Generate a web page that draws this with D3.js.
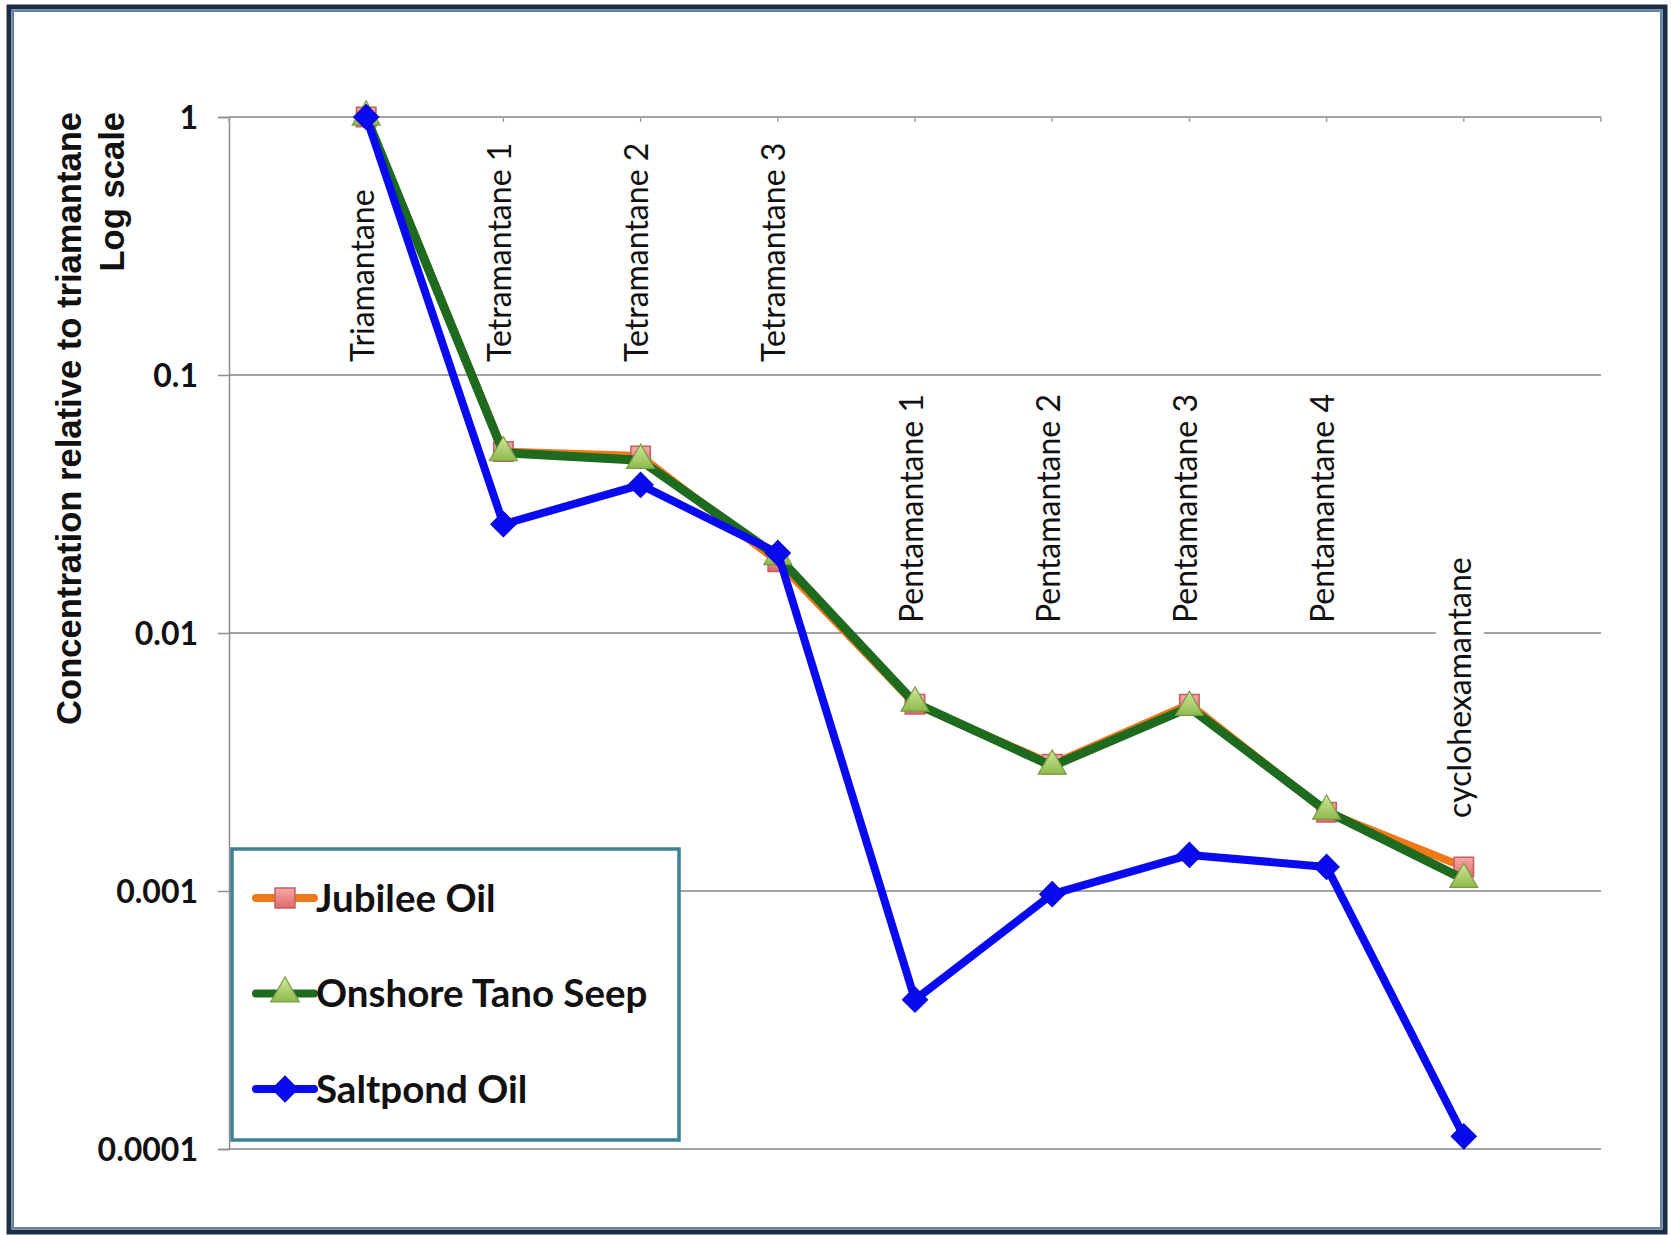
<!DOCTYPE html>
<html>
<head>
<meta charset="utf-8">
<script src="https://cdn.jsdelivr.net/npm/d3@7"></script>
<style>
  body { margin: 0; background: #fff; }
  svg { display: block; }
</style>
</head>
<body>
<div id="chart"></div>
<script>
var categories = [
  'Triamantane', 'Tetramantane 1', 'Tetramantane 2', 'Tetramantane 3',
  'Pentamantane 1', 'Pentamantane 2', 'Pentamantane 3', 'Pentamantane 4',
  'cyclohexamantane'
];
var jubilee  = [1, 0.0505, 0.0485, 0.0189, 0.00530, 0.00310, 0.00530, 0.00202, 0.00124];
var onshore  = [1, 0.0500, 0.0467, 0.0198, 0.00535, 0.00305, 0.00515, 0.00204, 0.00111];
var saltpond = [1, 0.0264, 0.0375, 0.0204, 0.000379, 0.000972, 0.00138, 0.00124, 0.000112];
var seriesNames = ['Jubilee Oil', 'Onshore Tano Seep', 'Saltpond Oil'];
var yTicks = [1, 0.1, 0.01, 0.001, 0.0001];
var yTickLabels = ['1', '0.1', '0.01', '0.001', '0.0001'];
var yTitle = ['Concentration relative to triamantane', 'Log scale'];

var width = 1671, height = 1235;
var calibri = 'Lato, "Open Sans", sans-serif';
var arial = '"Liberation Sans", Arial, sans-serif';

var svg = d3.select('#chart').append('svg')
  .attr('width', width)
  .attr('height', height);

// gradients for the glossy markers
var defs = svg.append('defs');
var g1 = defs.append('linearGradient').attr('id', 'sqGrad').attr('x1', 0).attr('y1', 0).attr('x2', 0).attr('y2', 1);
g1.append('stop').attr('offset', '0%').attr('stop-color', '#f6a8a8');
g1.append('stop').attr('offset', '100%').attr('stop-color', '#e06a6a');
var g2 = defs.append('linearGradient').attr('id', 'triGrad').attr('x1', 0).attr('y1', 0).attr('x2', 0).attr('y2', 1);
g2.append('stop').attr('offset', '0%').attr('stop-color', '#d2e89a');
g2.append('stop').attr('offset', '100%').attr('stop-color', '#8cba4c');

// frame
svg.append('rect').attr('width', width).attr('height', height).attr('fill', '#fff');
svg.append('rect')
  .attr('x', 9).attr('y', 7).attr('width', width - 15).attr('height', height - 10)
  .attr('fill', 'none').attr('stroke', '#1c2d45').attr('stroke-width', 5);
svg.append('rect')
  .attr('x', 13).attr('y', 11).attr('width', width - 23).attr('height', height - 18)
  .attr('fill', 'none').attr('stroke', '#6384aa').attr('stroke-width', 2);

var x = d3.scaleLinear().domain([0, categories.length + 1]).range([229, 1601]);
var y = d3.scaleLog().domain([0.0001, 1]).range([1149, 117]);

// gridlines
svg.append('g').selectAll('line').data(yTicks).enter().append('line')
  .attr('x1', x(0)).attr('x2', x(categories.length + 1))
  .attr('y1', d => y(d)).attr('y2', d => y(d))
  .attr('stroke', '#a2a2a2').attr('stroke-width', 2);

// y axis
var yAxis = svg.append('g')
  .attr('transform', 'translate(' + x(0) + ',0)')
  .call(d3.axisLeft(y).tickValues(yTicks).tickSize(11).tickPadding(20)
    .tickFormat((d, i) => yTickLabels[i]));
yAxis.select('.domain').attr('stroke', '#8c8c8c').attr('stroke-width', 1.5);
yAxis.selectAll('.tick line').attr('stroke', '#8c8c8c').attr('stroke-width', 1.5);
yAxis.selectAll('.tick text')
  .attr('font-family', calibri).attr('font-weight', 700).attr('font-size', 32)
  .attr('fill', '#111').attr('dy', '0.36em');

// category ticks along the top axis
svg.append('g').selectAll('line').data(d3.range(categories.length + 2)).enter().append('line')
  .attr('x1', d => x(d)).attr('x2', d => x(d))
  .attr('y1', y(1)).attr('y2', y(1) + 5)
  .attr('stroke', '#a2a2a2').attr('stroke-width', 1.5);

// y title, two lines right-aligned at the top
svg.append('g').selectAll('text').data(yTitle).enter().append('text')
  .attr('transform', (d, i) => 'translate(' + (81 + i * 43) + ',112) rotate(-90)')
  .attr('text-anchor', 'end')
  .attr('font-family', arial).attr('font-weight', 700).attr('font-size', 34.6)
  .attr('fill', '#111')
  .text(d => d);

// category labels placed in three rows
function labelBottom(i) {
  if (i < 4) return y(0.1) - 13;
  if (i < 8) return y(0.01) - 10;
  return y(0.001) - 73;
}
var labels = svg.append('g').selectAll('g').data(categories).enter().append('g')
  .attr('transform', (d, i) => 'translate(' + (x(i + 1) - 4) + ',' + labelBottom(i) + ') rotate(-90)');
labels.append('text')
  .attr('font-family', calibri).attr('font-size', 32).attr('fill', '#111')
  .attr('dy', '0.36em')
  .text(d => d);
labels.each(function () {
  var t = d3.select(this).select('text');
  var len = t.node().getComputedTextLength();
  d3.select(this).insert('rect', 'text')
    .attr('x', -4).attr('y', -24).attr('width', len + 8).attr('height', 48)
    .attr('fill', '#fff');
});

// series
var series = [
  { name: seriesNames[0], values: jubilee, line: '#f07818', width: 8, shape: 'square' },
  { name: seriesNames[1], values: onshore, line: '#1e6a1e', width: 9, shape: 'triangle' },
  { name: seriesNames[2], values: saltpond, line: '#0a0af0', width: 8, shape: 'diamond' }
];

function drawMarker(sel, shape, scale) {
  scale = scale || 1;
  if (shape === 'square') {
    sel.append('path')
      .attr('d', d3.symbol().type(d3.symbolSquare).size(380 * scale)())
      .attr('fill', 'url(#sqGrad)').attr('stroke', '#c26060').attr('stroke-width', 1.5);
  } else if (shape === 'triangle') {
    sel.append('path')
      .attr('d', d3.symbol().type(d3.symbolTriangle).size(340 * scale)())
      .attr('fill', 'url(#triGrad)').attr('stroke', '#7c9a44').attr('stroke-width', 1.2);
  } else {
    sel.append('path')
      .attr('d', d3.symbol().type(d3.symbolSquare).size(320 * scale)())
      .attr('transform', 'rotate(45)')
      .attr('fill', '#0a0af0').attr('stroke', '#0606c8').attr('stroke-width', 1);
  }
}

var line = d3.line()
  .x((d, i) => x(i + 1))
  .y(d => y(d));

series.forEach(function (s) {
  var g = svg.append('g');
  g.append('path')
    .attr('d', line(s.values))
    .attr('fill', 'none').attr('stroke', s.line).attr('stroke-width', s.width)
    .attr('stroke-linejoin', 'round');
  g.selectAll('g').data(s.values).enter().append('g')
    .attr('transform', (d, i) => 'translate(' + x(i + 1) + ',' + y(d) + ')')
    .each(function () { drawMarker(d3.select(this), s.shape); });
});

// legend
var legend = svg.append('g');
legend.append('rect')
  .attr('x', 232).attr('y', 849).attr('width', 447).attr('height', 291)
  .attr('fill', '#fff').attr('stroke', '#3c8095').attr('stroke-width', 3.5);
var rows = legend.selectAll('g').data(series).enter().append('g')
  .attr('transform', (d, i) => 'translate(256,' + (898 + i * 95.5) + ')');
rows.append('line')
  .attr('x1', 0).attr('x2', 58)
  .attr('stroke', d => d.line).attr('stroke-width', 8).attr('stroke-linecap', 'round');
rows.append('g')
  .attr('transform', 'translate(29,0)')
  .each(function (d) { drawMarker(d3.select(this), d.shape, 1.05); });
rows.append('text')
  .attr('x', 60).attr('dy', '0.36em')
  .attr('font-family', calibri).attr('font-weight', 700).attr('font-size', 38.5)
  .attr('fill', '#111')
  .text(d => d.name);
</script>
</body>
</html>
